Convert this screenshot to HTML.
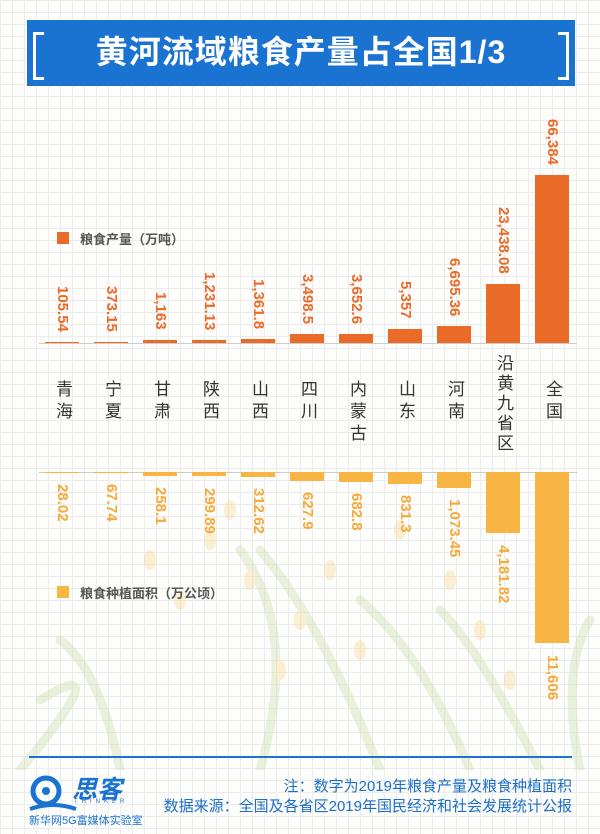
<!DOCTYPE html>
<html><head><meta charset="utf-8"><style>
body{margin:0;width:600px;height:834px;position:relative;overflow:hidden;background:#fdfdfb;font-family:"Liberation Sans","Noto Sans CJK SC",sans-serif;
background-image:linear-gradient(#ececec 1px,transparent 1px),linear-gradient(90deg,#ececec 1px,transparent 1px);background-size:12px 12px}
.a{position:absolute}
.t{left:27px;top:20px;width:548px;height:66px;background:#1b73d1;color:#fff;font-weight:bold;font-size:32px;text-align:center;line-height:64px;letter-spacing:1px}
.br{position:absolute;top:12px;width:8px;height:42px;border:3px solid #fff}
.u{background:#ea6a27}.d{background:#f8b544}
.v{position:absolute;writing-mode:vertical-rl;font-weight:bold;font-size:15px;width:18px;line-height:18px;white-space:nowrap}
.vu{color:#ea6a27}.vd{color:#f5a93a}
.c{position:absolute;top:380px;writing-mode:vertical-rl;font-size:17px;color:#333;width:20px;line-height:20px;letter-spacing:5px}
.lg{font-size:13px;font-weight:bold;color:#555}
</style></head><body>
<svg class="a" style="left:0;top:470px" width="600" height="300" viewBox="0 0 600 300" opacity="0.35">
<g fill="none" stroke="#c5d9a0" stroke-width="9" stroke-linecap="round">
<path d="M20 300 Q120 180 40 230"/><path d="M120 300 Q100 200 60 170"/><path d="M260 300 Q300 160 240 80"/><path d="M380 300 Q320 150 260 80"/><path d="M470 300 Q420 180 360 130"/><path d="M540 300 Q480 180 440 140"/><path d="M580 300 Q560 200 590 150"/>
</g>
<g fill="#f5d48a"><ellipse cx="210" cy="70" rx="6" ry="10"/><ellipse cx="230" cy="40" rx="6" ry="10"/><ellipse cx="250" cy="110" rx="6" ry="10"/><ellipse cx="300" cy="150" rx="6" ry="10"/><ellipse cx="280" cy="200" rx="6" ry="10"/><ellipse cx="400" cy="60" rx="6" ry="10"/><ellipse cx="450" cy="110" rx="6" ry="10"/><ellipse cx="480" cy="160" rx="6" ry="10"/><ellipse cx="510" cy="210" rx="6" ry="10"/><ellipse cx="150" cy="90" rx="6" ry="10"/><ellipse cx="180" cy="130" rx="6" ry="10"/><ellipse cx="330" cy="100" rx="6" ry="10"/><ellipse cx="360" cy="180" rx="6" ry="10"/></g>
</svg>
<div class="a t"><span class="br" style="left:6px;border-right:none"></span>黄河流域粮食产量占全国1/3<span class="br" style="right:6px;border-left:none"></span></div>

<div class="a u" style="left:57px;top:232px;width:12px;height:12px"></div>
<div class="a lg" style="left:80px;top:229px">粮食产量（万吨）</div>
<div class="a d" style="left:57px;top:586px;width:12px;height:12px"></div>
<div class="a lg" style="left:80px;top:583px">粮食种植面积（万公顷）</div>

<div class="a" style="left:39px;top:343px;width:538px;height:1px;background:#ccc"></div>
<div class="a" style="left:39px;top:472px;width:538px;height:1px;background:#ccc"></div>

<div class="a u" style="left:45px;top:342px;width:34px;height:1px"></div>
<div class="a u" style="left:94px;top:342px;width:34px;height:1px"></div>
<div class="a u" style="left:143px;top:340px;width:34px;height:3px"></div>
<div class="a u" style="left:192px;top:340px;width:34px;height:3px"></div>
<div class="a u" style="left:241px;top:339px;width:34px;height:4px"></div>
<div class="a u" style="left:290px;top:334px;width:34px;height:9px"></div>
<div class="a u" style="left:339px;top:334px;width:34px;height:9px"></div>
<div class="a u" style="left:388px;top:329px;width:34px;height:14px"></div>
<div class="a u" style="left:437px;top:326px;width:34px;height:17px"></div>
<div class="a u" style="left:486px;top:284px;width:34px;height:59px"></div>
<div class="a u" style="left:535px;top:175px;width:34px;height:168px"></div>

<div class="v vu" style="left:53px;bottom:502px">105.54</div>
<div class="v vu" style="left:102px;bottom:502px">373.15</div>
<div class="v vu" style="left:151px;bottom:504px">1,163</div>
<div class="v vu" style="left:200px;bottom:504px">1,231.13</div>
<div class="v vu" style="left:249px;bottom:505px">1,361.8</div>
<div class="v vu" style="left:298px;bottom:510px">3,498.5</div>
<div class="v vu" style="left:347px;bottom:510px">3,652.6</div>
<div class="v vu" style="left:396px;bottom:515px">5,357</div>
<div class="v vu" style="left:445px;bottom:518px">6,695.36</div>
<div class="v vu" style="left:494px;bottom:560px">23,438.08</div>
<div class="v vu" style="left:543px;bottom:669px">66,384</div>

<div class="c" style="left:52px">青海</div>
<div class="c" style="left:101px">宁夏</div>
<div class="c" style="left:150px">甘肃</div>
<div class="c" style="left:199px">陕西</div>
<div class="c" style="left:248px">山西</div>
<div class="c" style="left:297px">四川</div>
<div class="c" style="left:346px">内蒙古</div>
<div class="c" style="left:395px">山东</div>
<div class="c" style="left:444px">河南</div>
<div class="c" style="left:493px;top:354px;letter-spacing:3px">沿黄九省区</div>
<div class="c" style="left:542px">全国</div>

<div class="a d" style="left:45px;top:472px;width:34px;height:1px"></div>
<div class="a d" style="left:94px;top:472px;width:34px;height:1px"></div>
<div class="a d" style="left:143px;top:472px;width:34px;height:4px"></div>
<div class="a d" style="left:192px;top:472px;width:34px;height:4px"></div>
<div class="a d" style="left:241px;top:472px;width:34px;height:5px"></div>
<div class="a d" style="left:290px;top:472px;width:34px;height:9px"></div>
<div class="a d" style="left:339px;top:472px;width:34px;height:10px"></div>
<div class="a d" style="left:388px;top:472px;width:34px;height:12px"></div>
<div class="a d" style="left:437px;top:472px;width:34px;height:16px"></div>
<div class="a d" style="left:486px;top:472px;width:34px;height:61px"></div>
<div class="a d" style="left:535px;top:472px;width:34px;height:171px"></div>

<div class="v vd" style="left:53px;top:484px">28.02</div>
<div class="v vd" style="left:102px;top:484px">67.74</div>
<div class="v vd" style="left:151px;top:487px">258.1</div>
<div class="v vd" style="left:200px;top:488px">299.89</div>
<div class="v vd" style="left:249px;top:488px">312.62</div>
<div class="v vd" style="left:298px;top:492px">627.9</div>
<div class="v vd" style="left:347px;top:493px">682.8</div>
<div class="v vd" style="left:396px;top:495px">831.3</div>
<div class="v vd" style="left:445px;top:499px">1,073.45</div>
<div class="v vd" style="left:494px;top:545px">4,181.82</div>
<div class="v vd" style="left:543px;top:655px">11,606</div>

<div class="a" style="left:29px;top:756px;width:543px;height:2px;background:#1b73d1"></div>
<div class="a" style="right:28px;top:777px;color:#1b6fc9;font-size:15px;text-align:right;line-height:20px">注：数字为2019年粮食产量及粮食种植面积<br>数据来源：全国及各省区2019年国民经济和社会发展统计公报</div>
<svg class="a" style="left:28px;top:775px" width="50" height="40"><circle cx="18" cy="16" r="13" fill="none" stroke="#1b73d1" stroke-width="5"/><circle cx="18" cy="16" r="4" fill="#1b73d1"/><path d="M2 34 Q25 26 48 34" stroke="#1b73d1" stroke-width="4" fill="none"/></svg>
<div class="a" style="left:72px;top:770px;font-size:25px;font-weight:bold;color:#1b73d1;font-style:italic">思客</div>
<div class="a" style="left:74px;top:799px;font-size:6px;letter-spacing:4px;color:#1b73d1">THINKER</div>
<div class="a" style="left:29px;top:812px;font-size:11px;color:#1b73d1">新华网5G富媒体实验室</div>
</body></html>
